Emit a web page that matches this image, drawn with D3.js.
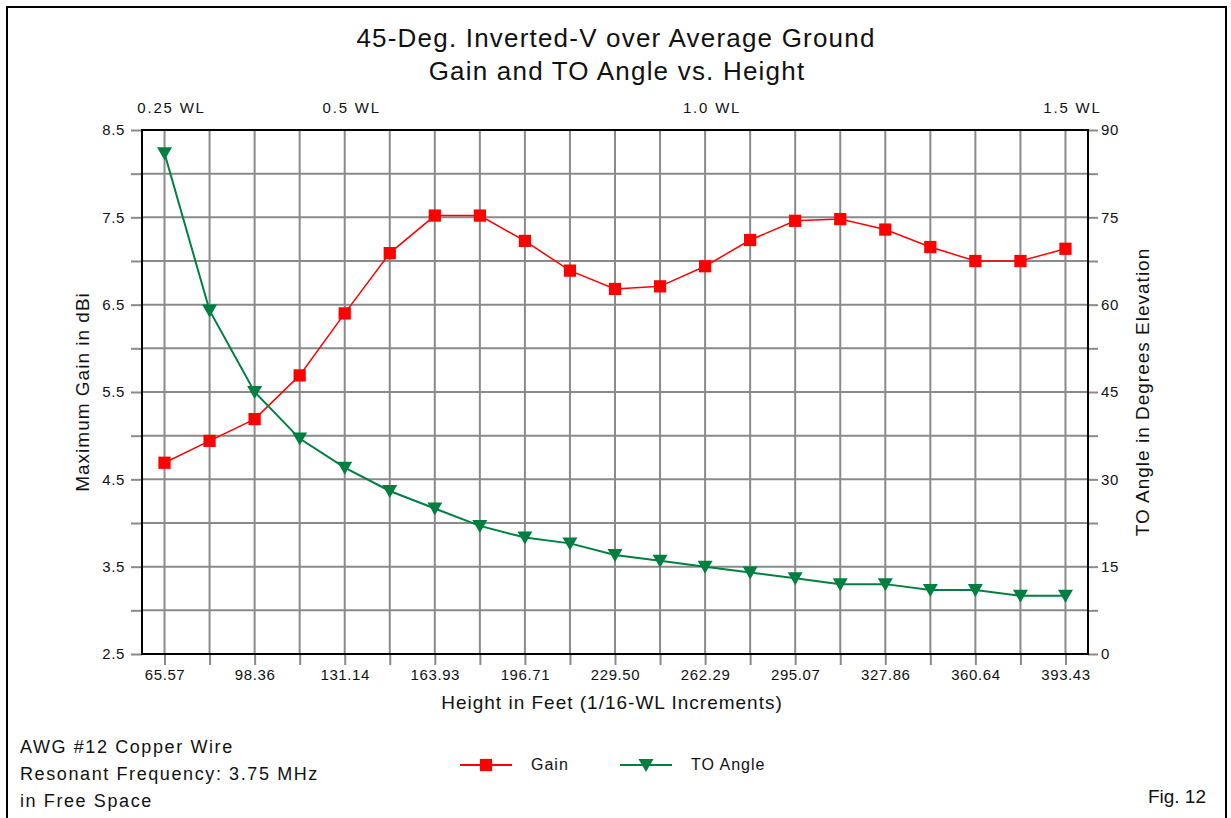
<!DOCTYPE html>
<html>
<head>
<meta charset="utf-8">
<script src="https://cdn.jsdelivr.net/npm/d3@7"></script>
<style>
  body { margin: 0; background: #fff; }
  text { font-family: Arial, "Liberation Sans", sans-serif; fill: #111; }
</style>
</head>
<body>
<div id="chart"></div>
<script>
(() => {
    // heights in feet, 1/16 WL steps
    const heights = ["65.57", "81.96", "98.36", "114.75", "131.14", "147.53", "163.93", "180.32", "196.71", "213.11",
        "229.50", "245.89", "262.29", "278.68", "295.07", "311.46", "327.86", "344.25", "360.64", "377.04", "393.43"];
    const gain = [4.69, 4.94, 5.19, 5.69, 6.40, 7.09, 7.52, 7.52, 7.23, 6.89, 6.68, 6.71, 6.94, 7.24, 7.46, 7.48, 7.36, 7.16, 7.00, 7.00, 7.14];
    const toAngle = [86, 59, 45, 37, 32, 28, 25, 22, 20, 19, 17, 16, 15, 14, 13, 12, 12, 11, 11, 10, 10];
    const wlLabels = ["0.25 WL", "0.5 WL", "1.0 WL", "1.5 WL"];
    const wlHeights = ["65.57", "131.14", "262.29", "393.43"];
    const leftTicks = [2.5, 3.5, 4.5, 5.5, 6.5, 7.5, 8.5];
    const rightTicks = [0, 15, 30, 45, 60, 75, 90];
    const notes = ["AWG #12 Copper Wire", "Resonant Frequency: 3.75 MHz", "in Free Space"];

    const width = 1231;
    const height = 818;
    const plot = { left: 142, right: 1088, top: 130, bottom: 654 };

    const svg = d3.select("#chart").append("svg")
        .attr("width", width)
        .attr("height", height);

    // outer frame
    svg.append("path")
        .attr("d", `M7,818 V7 H1226 V818`)
        .attr("fill", "none")
        .attr("stroke", "#000")
        .attr("stroke-width", 2);

    /********************** scales *****************************/
    const x = d3.scalePoint()
        .domain(heights)
        .range([plot.left, plot.right])
        .padding(0.5);
    const yGain = d3.scaleLinear().domain([2.5, 8.5]).range([plot.bottom, plot.top]);
    const yAngle = d3.scaleLinear().domain([0, 90]).range([plot.bottom, plot.top]);

    /********************** gridlines *****************************/
    const grid = svg.append("g").attr("stroke", "#8a8a8a").attr("stroke-width", 2);
    grid.selectAll(".vgrid")
        .data(heights)
        .join("line")
        .attr("x1", d => x(d)).attr("x2", d => x(d))
        .attr("y1", plot.top).attr("y2", plot.bottom);
    grid.selectAll(".hgrid")
        .data(d3.range(3, 8.5, 0.5))
        .join("line")
        .attr("x1", plot.left).attr("x2", plot.right)
        .attr("y1", d => yGain(d)).attr("y2", d => yGain(d));

    /********************** axes *****************************/
    const tickFont = g => g.selectAll("text")
        .style("font-size", "15px")
        .style("letter-spacing", "0.6px")
        .attr("fill", "#111");

    const leftAxis = svg.append("g")
        .attr("transform", `translate(${plot.left},0)`)
        .call(d3.axisLeft(yGain)
            .tickValues(d3.range(2.5, 8.51, 0.5))
            .tickSize(11).tickPadding(6)
            .tickFormat(d => leftTicks.includes(d) ? d.toFixed(1) : ""));
    leftAxis.call(tickFont);

    const rightAxis = svg.append("g")
        .attr("transform", `translate(${plot.right},0)`)
        .call(d3.axisRight(yAngle)
            .tickValues(d3.range(0, 90.1, 7.5))
            .tickSize(10).tickPadding(3)
            .tickFormat(d => rightTicks.includes(d) ? d : ""));
    rightAxis.call(tickFont);

    const bottomAxis = svg.append("g")
        .attr("transform", `translate(0,${plot.bottom})`)
        .call(d3.axisBottom(x)
            .tickSize(11).tickPadding(4)
            .tickFormat((d, i) => i % 2 === 0 ? d : ""));
    bottomAxis.call(tickFont);

    [leftAxis, rightAxis, bottomAxis].forEach(a => {
        a.select(".domain").remove();
        a.selectAll(".tick line").attr("stroke", "#8a8a8a").attr("stroke-width", 2);
    });

    // plot border (black)
    svg.append("rect")
        .attr("x", plot.left).attr("y", plot.top)
        .attr("width", plot.right - plot.left)
        .attr("height", plot.bottom - plot.top)
        .attr("fill", "none")
        .attr("stroke", "#000")
        .attr("stroke-width", 2);

    // top wavelength labels
    svg.selectAll(".wl")
        .data(wlLabels)
        .join("text")
        .attr("x", (d, i) => x(wlHeights[i]) + 7)
        .attr("y", 113)
        .attr("text-anchor", "middle")
        .style("font-size", "15px")
        .style("letter-spacing", "1.8px")
        .text(d => d);

    /********************** titles *****************************/
    const big = { size: "26px", spacing: "1.2px" };
    svg.append("text")
        .attr("x", 616).attr("y", 47)
        .attr("text-anchor", "middle")
        .style("font-size", big.size)
        .style("letter-spacing", big.spacing)
        .text("45-Deg. Inverted-V over Average Ground");
    svg.append("text")
        .attr("x", 617).attr("y", 80)
        .attr("text-anchor", "middle")
        .style("font-size", big.size)
        .style("letter-spacing", big.spacing)
        .text("Gain and TO Angle vs. Height");

    svg.append("text")
        .attr("x", 612).attr("y", 709)
        .attr("text-anchor", "middle")
        .style("font-size", "19px")
        .style("letter-spacing", "1px")
        .text("Height in Feet (1/16-WL Increments)");

    svg.append("text")
        .attr("transform", `translate(89,${(plot.top + plot.bottom) / 2}) rotate(-90)`)
        .attr("text-anchor", "middle")
        .style("font-size", "19px")
        .style("letter-spacing", "1px")
        .text("Maximum Gain in dBi");

    svg.append("text")
        .attr("transform", `translate(1149,${(plot.top + plot.bottom) / 2}) rotate(-90)`)
        .attr("text-anchor", "middle")
        .style("font-size", "19px")
        .style("letter-spacing", "1px")
        .text("TO Angle in Degrees Elevation");

    /********************** data *****************************/
    const red = "#ff0000";
    const green = "#008040";

    svg.append("path")
        .datum(heights)
        .attr("fill", "none")
        .attr("stroke", red)
        .attr("stroke-width", 1.5)
        .attr("d", d3.line().x(d => x(d)).y((d, i) => yGain(gain[i])));

    svg.append("path")
        .datum(heights)
        .attr("fill", "none")
        .attr("stroke", green)
        .attr("stroke-width", 2)
        .attr("d", d3.line().x(d => x(d)).y((d, i) => yAngle(toAngle[i])));

    const square = d3.symbol().type(d3.symbolSquare).size(150);
    const triDown = "M-7.5,-6 L7.5,-6 L0,7 Z";

    svg.selectAll(".gainpt")
        .data(heights)
        .join("path")
        .attr("transform", (d, i) => `translate(${x(d)},${yGain(gain[i])})`)
        .attr("d", square)
        .attr("fill", red);

    svg.selectAll(".anglept")
        .data(heights)
        .join("path")
        .attr("transform", (d, i) => `translate(${x(d)},${yAngle(toAngle[i])})`)
        .attr("d", triDown)
        .attr("fill", green);

    /********************** legend *****************************/
    const legend = [
        { name: "Gain", color: red, sym: square(), x: 460 },
        { name: "TO Angle", color: green, sym: triDown, x: 620 }
    ];
    const lg = svg.selectAll(".legend")
        .data(legend)
        .join("g")
        .attr("transform", d => `translate(${d.x},765)`);
    lg.append("line")
        .attr("x1", 0).attr("x2", 52)
        .attr("stroke", d => d.color).attr("stroke-width", 2);
    lg.append("path")
        .attr("transform", "translate(26,0)")
        .attr("d", d => d.sym)
        .attr("fill", d => d.color);
    lg.append("text")
        .attr("x", 71).attr("y", 5)
        .style("font-size", "16px")
        .style("letter-spacing", "1px")
        .text(d => d.name);

    /********************** notes *****************************/
    svg.selectAll(".note")
        .data(notes)
        .join("text")
        .attr("x", 20)
        .attr("y", (d, i) => 753 + i * 27)
        .style("font-size", "18px")
        .style("letter-spacing", "1.6px")
        .text(d => d);

    svg.append("text")
        .attr("x", 1206).attr("y", 803)
        .attr("text-anchor", "end")
        .style("font-size", "19px")
        .text("Fig. 12");
})()
</script>
</body>
</html>
